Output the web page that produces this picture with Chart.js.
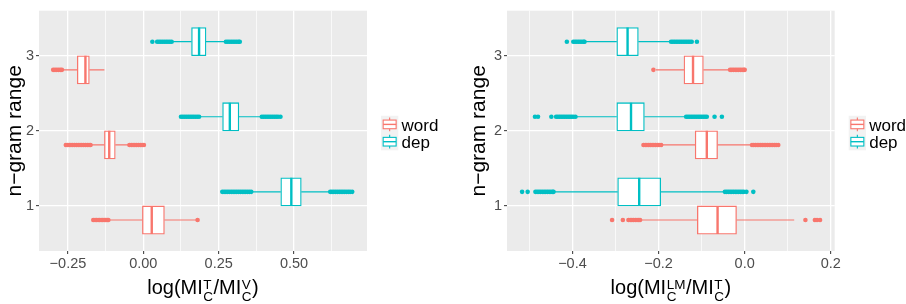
<!DOCTYPE html>
<html><head><meta charset="utf-8">
<script src="https://cdn.jsdelivr.net/npm/chart.js@4.4.1/dist/chart.umd.min.js"></script>
<style>
html,body{margin:0;padding:0;background:#fff;}
#wrap{position:relative;width:906px;height:304px;overflow:hidden;}
.pane{position:absolute;top:0;width:453px;height:304px;}
canvas{display:block;}
</style></head><body>
<div id="wrap">
<div class="pane" style="left:0"><canvas id="c1" width="453" height="304"></canvas></div>
<div class="pane" style="left:453px"><canvas id="c2" width="453" height="304"></canvas></div>
</div>
<script>
// ---------- categories / series ----------
const categories = [1, 2, 3];                 // n-gram range
const seriesNames = ['word', 'dep'];
const seriesColors = ['#F8766D', '#00BFC4'];
const yAxisTitle = 'n\u2212gram range';

// ---------- left panel: log(MI_C^T / MI_C^V) ----------
const tvTicks = [-0.25, 0, 0.25, 0.5];
const tvTickLabels = ['\u22120.25', '0.00', '0.25', '0.50'];
const tvMinorTicks = [-0.125, 0.125, 0.375, 0.625];

const tvWordLow    = [-0.116, -0.174, -0.269];
const tvWordQ1     = [-0.003, -0.129, -0.219];
const tvWordMedian = [ 0.028, -0.113, -0.192];
const tvWordQ3     = [ 0.070, -0.093, -0.179];
const tvWordHigh   = [ 0.175, -0.047, -0.129];
const tvWordOut1 = [-0.166,-0.160,-0.155,-0.150,-0.145,-0.140,-0.135,-0.130,-0.125,-0.120,-0.116, 0.180];
const tvWordOut2 = [-0.257,-0.251,-0.245,-0.240,-0.234,-0.228,-0.222,-0.216,-0.210,-0.204,-0.198,-0.192,-0.186,-0.180,-0.175,
                    -0.046,-0.040,-0.034,-0.028,-0.022,-0.016,-0.010,-0.004, 0.002];
const tvWordOut3 = [-0.299,-0.293,-0.287,-0.281,-0.275,-0.270];

const tvDepLow    = [0.360, 0.186, 0.096];
const tvDepQ1     = [0.456, 0.263, 0.160];
const tvDepMedian = [0.491, 0.287, 0.185];
const tvDepQ3     = [0.524, 0.317, 0.208];
const tvDepHigh   = [0.618, 0.392, 0.273];
const tvDepOut1 = [0.262,0.268,0.274,0.280,0.286,0.292,0.298,0.304,0.310,0.316,0.322,0.328,0.334,0.340,0.346,0.352,0.358,
                   0.620,0.626,0.632,0.638,0.644,0.650,0.656,0.662,0.668,0.674,0.680,0.686,0.693];
const tvDepOut2 = [0.125,0.131,0.137,0.143,0.149,0.155,0.161,0.167,0.173,0.179,0.185,
                   0.393,0.399,0.405,0.411,0.417,0.423,0.429,0.435,0.441,0.447,0.455];
const tvDepOut3 = [0.030,0.046,0.052,0.058,0.064,0.070,0.076,0.082,0.088,0.094,
                   0.274,0.280,0.286,0.292,0.298,0.304,0.310,0.316,0.320];

// ---------- right panel: log(MI_C^LM / MI_C^T) ----------
const lmTicks = [-0.4, -0.2, 0, 0.2];
const lmTickLabels = ['\u22120.4', '\u22120.2', '0.0', '0.2'];
const lmMinorTicks = [-0.5, -0.3, -0.1, 0.1];

const lmWordLow    = [-0.242, -0.193, -0.206];
const lmWordQ1     = [-0.110, -0.115, -0.141];
const lmWordMedian = [-0.063, -0.088, -0.120];
const lmWordQ3     = [-0.019, -0.063, -0.096];
const lmWordHigh   = [ 0.115,  0.016, -0.034];
const lmWordOut1 = [-0.308,-0.283,-0.270,-0.266,-0.262,-0.258,-0.254,-0.250,-0.246,-0.243, 0.141, 0.163, 0.168, 0.175];
const lmWordOut2 = [-0.235,-0.231,-0.227,-0.223,-0.219,-0.215,-0.211,-0.207,-0.203,-0.199,-0.194,
                    0.017,0.021,0.025,0.029,0.033,0.037,0.041,0.045,0.049,0.053,0.057,0.061,0.065,0.069,0.073,0.078];
const lmWordOut3 = [-0.212, -0.034,-0.030,-0.026,-0.022,-0.018,-0.014,-0.010,-0.006,-0.002, 0.000];

const lmDepLow    = [-0.443, -0.392, -0.371];
const lmDepQ1     = [-0.295, -0.297, -0.297];
const lmDepMedian = [-0.245, -0.264, -0.272];
const lmDepQ3     = [-0.195, -0.233, -0.247];
const lmDepHigh   = [-0.047, -0.137, -0.172];
const lmDepOut1 = [-0.517,-0.504,-0.486,-0.482,-0.478,-0.474,-0.470,-0.466,-0.462,-0.458,-0.454,-0.450,-0.446,-0.444,
                   -0.046,-0.042,-0.038,-0.034,-0.030,-0.026,-0.022,-0.018,-0.014,-0.010,-0.006,-0.002,0.004,0.020];
const lmDepOut2 = [-0.487,-0.480,-0.449,-0.438,-0.434,-0.430,-0.426,-0.422,-0.418,-0.414,-0.410,-0.406,-0.402,-0.398,-0.393,
                   -0.136,-0.132,-0.128,-0.124,-0.120,-0.116,-0.112,-0.108,-0.104,-0.100,-0.096,-0.092,-0.088,-0.070,-0.053];
const lmDepOut3 = [-0.413,-0.398,-0.394,-0.390,-0.386,-0.382,-0.378,-0.374,-0.372,
                   -0.171,-0.167,-0.163,-0.159,-0.155,-0.151,-0.147,-0.143,-0.139,-0.135,-0.131,-0.127,-0.123,-0.111];

// ---------- builders ----------
const DODGE = 0.1875;      // ggplot dodge offset (0.75 / 4)
const HALF_BOX = 0.1875;   // half box width in category units
const FONT = '"Liberation Sans", Arial, Helvetica, sans-serif';

function boxDatasets(name, color, offset, lo, q1, med, q3, hi, outs) {
  const whisk = [], meds = [], pts = [];
  categories.forEach((c, i) => {
    const y = c + offset;
    whisk.push({x: lo[i], y}, {x: q1[i], y}, {x: null, y: null},
               {x: q3[i], y}, {x: hi[i], y}, {x: null, y: null});
    meds.push({x: med[i], y: y - HALF_BOX}, {x: med[i], y: y + HALF_BOX}, {x: null, y: null});
    outs[i].forEach(v => pts.push({x: v, y}));
  });
  return [
    {type: 'line', label: name + ' whiskers', data: whisk, borderColor: color, borderWidth: 1.2,
     pointRadius: 0, spanGaps: false, fill: false, order: 4},
    {type: 'bar', label: name, data: categories.map((c, i) => ({y: c + offset, x: [q1[i], q3[i]]})),
     backgroundColor: '#FFFFFF', borderColor: color, borderWidth: 1.3, borderSkipped: false,
     grouped: false, barPercentage: 1, categoryPercentage: 1, order: 3},
    {type: 'line', label: name + ' median', data: meds, borderColor: color, borderWidth: 2.4,
     pointRadius: 0, spanGaps: false, fill: false, order: 2},
    {type: 'scatter', label: name + ' outliers', data: pts, backgroundColor: color, borderWidth: 0,
     pointRadius: 2.3, pointHoverRadius: 2.3, order: 1}
  ];
}

function drawXTitle(ctx, area, parts) {
  const big = '20px ' + FONT, small = '13.5px ' + FONT;
  let total = 0;
  parts.forEach(p => {
    if (p.t) { ctx.font = big; p.w = ctx.measureText(p.t).width; }
    else { ctx.font = small; p.w = Math.max(ctx.measureText(p.sup).width, ctx.measureText(p.sub).width) + 1; }
    total += p.w;
  });
  let x = (area.left + area.right) / 2 - total / 2;
  ctx.fillStyle = '#000';
  ctx.textAlign = 'left';
  ctx.textBaseline = 'alphabetic';
  parts.forEach(p => {
    if (p.t) { ctx.font = big; ctx.fillText(p.t, x, 294); }
    else {
      ctx.font = small;
      ctx.fillText(p.sup, x + 0.5, 288.5);
      ctx.fillText(p.sub, x + 0.5, 301);
    }
    x += p.w;
  });
}

function drawLegend(ctx, area) {
  const s = 17.3;
  const kx = area.right + 14;
  const top = (area.top + area.bottom) / 2 + 2.2 - s;
  seriesNames.forEach((name, i) => {
    const ky = top + i * s;
    const color = seriesColors[i];
    ctx.fillStyle = '#F2F2F2';
    ctx.fillRect(kx, ky, s, s);
    ctx.strokeStyle = color;
    ctx.lineWidth = 1.1;
    ctx.beginPath();
    ctx.moveTo(kx + s / 2, ky + 0.1 * s); ctx.lineTo(kx + s / 2, ky + 0.25 * s);
    ctx.moveTo(kx + s / 2, ky + 0.75 * s); ctx.lineTo(kx + s / 2, ky + 0.9 * s);
    ctx.stroke();
    ctx.fillStyle = '#FFFFFF';
    ctx.fillRect(kx + 0.125 * s, ky + 0.25 * s, 0.75 * s, 0.5 * s);
    ctx.strokeRect(kx + 0.125 * s, ky + 0.25 * s, 0.75 * s, 0.5 * s);
    ctx.lineWidth = 1.4;
    ctx.beginPath();
    ctx.moveTo(kx + 0.125 * s, ky + 0.5 * s); ctx.lineTo(kx + 0.875 * s, ky + 0.5 * s);
    ctx.stroke();
    ctx.fillStyle = '#000';
    ctx.font = '17px ' + FONT;
    ctx.textAlign = 'left';
    ctx.textBaseline = 'alphabetic';
    ctx.fillText(name, kx + s + 3.2, ky + 15);
  });
}

function makeChart(id, cfg) {
  const decor = {
    id: 'decor' + id,
    beforeDraw(chart) {
      const a = chart.chartArea, ctx = chart.ctx;
      ctx.save(); ctx.fillStyle = '#EBEBEB';
      ctx.fillRect(a.left, a.top, a.right - a.left, a.bottom - a.top);
      ctx.restore();
    },
    afterDraw(chart) {
      const ctx = chart.ctx; ctx.save();
      drawXTitle(ctx, chart.chartArea, cfg.titleParts);
      drawLegend(ctx, chart.chartArea);
      ctx.restore();
    }
  };
  const labelFor = {};
  cfg.ticks.forEach((v, i) => labelFor[v] = cfg.tickLabels[i]);
  return new Chart(document.getElementById(id), {
    type: 'bar',
    data: {datasets: [
      ...boxDatasets(seriesNames[0], seriesColors[0], -DODGE, ...cfg.word),
      ...boxDatasets(seriesNames[1], seriesColors[1], DODGE, ...cfg.dep)
    ]},
    options: {
      indexAxis: 'y',
      responsive: false, animation: false, devicePixelRatio: 1,
      layout: {padding: {top: 8, right: cfg.padRight, left: 0, bottom: 0}},
      plugins: {legend: {display: false}, tooltip: {enabled: false}},
      scales: {
        x: {
          type: 'linear', position: 'bottom', min: cfg.xMin, max: cfg.xMax, offset: false,
          afterBuildTicks(axis) {
            const t = cfg.ticks.map(v => ({value: v, minor: false}))
              .concat(cfg.minor.map(v => ({value: v, minor: true})));
            t.sort((a, b) => a.value - b.value);
            axis.ticks = t;
          },
          afterFit(axis) { axis.height = 53; },
          border: {display: false},
          grid: {
            offset: false,
            color: '#FFFFFF',
            lineWidth: c => (c.tick && c.tick.minor) ? 0.7 : 1.3,
            drawTicks: true, tickLength: 3,
            tickColor: c => (c.tick && c.tick.minor) ? 'rgba(0,0,0,0)' : '#333333',
            tickWidth: 1
          },
          ticks: {
            autoSkip: false, maxRotation: 0, padding: 1,
            color: '#4D4D4D', font: {family: FONT, size: 14.5},
            callback: (v, i, ts) => ts[i].minor ? '' : labelFor[v]
          }
        },
        y: {
          type: 'linear', position: 'left', min: 0.4, max: 3.6, offset: false,
          afterBuildTicks(axis) { axis.ticks = categories.map(v => ({value: v})); },
          afterFit(axis) { axis.width = cfg.yWidth; },
          border: {display: false},
          grid: {offset: false, color: '#FFFFFF', lineWidth: 1.3, drawTicks: true, tickLength: 3,
                 tickColor: '#333333', tickWidth: 1},
          ticks: {autoSkip: false, padding: 2, color: '#4D4D4D', font: {family: FONT, size: 14.5},
                  callback: v => String(v)},
          title: {display: true, text: yAxisTitle, color: '#000', font: {family: FONT, size: 21},
                  padding: {top: cfg.titlePad, bottom: 0}}
        }
      }
    },
    plugins: [decor]
  });
}

makeChart('c1', {
  xMin: -0.346, xMax: 0.742, ticks: tvTicks, tickLabels: tvTickLabels, minor: tvMinorTicks,
  padRight: 86, yWidth: 39, titlePad: 3,
  word: [tvWordLow, tvWordQ1, tvWordMedian, tvWordQ3, tvWordHigh, [tvWordOut1, tvWordOut2, tvWordOut3]],
  dep:  [tvDepLow, tvDepQ1, tvDepMedian, tvDepQ3, tvDepHigh, [tvDepOut1, tvDepOut2, tvDepOut3]],
  titleParts: [{t: 'log(MI'}, {sup: 'T', sub: 'C'}, {t: '/MI'}, {sup: 'V', sub: 'C'}, {t: ')'}]
});
makeChart('c2', {
  xMin: -0.552, xMax: 0.209, ticks: lmTicks, tickLabels: lmTickLabels, minor: lmMinorTicks,
  padRight: 71.3, yWidth: 54, titlePad: 14,
  word: [lmWordLow, lmWordQ1, lmWordMedian, lmWordQ3, lmWordHigh, [lmWordOut1, lmWordOut2, lmWordOut3]],
  dep:  [lmDepLow, lmDepQ1, lmDepMedian, lmDepQ3, lmDepHigh, [lmDepOut1, lmDepOut2, lmDepOut3]],
  titleParts: [{t: 'log(MI'}, {sup: 'LM', sub: 'C'}, {t: '/MI'}, {sup: 'T', sub: 'C'}, {t: ')'}]
});
</script>
</body></html>
